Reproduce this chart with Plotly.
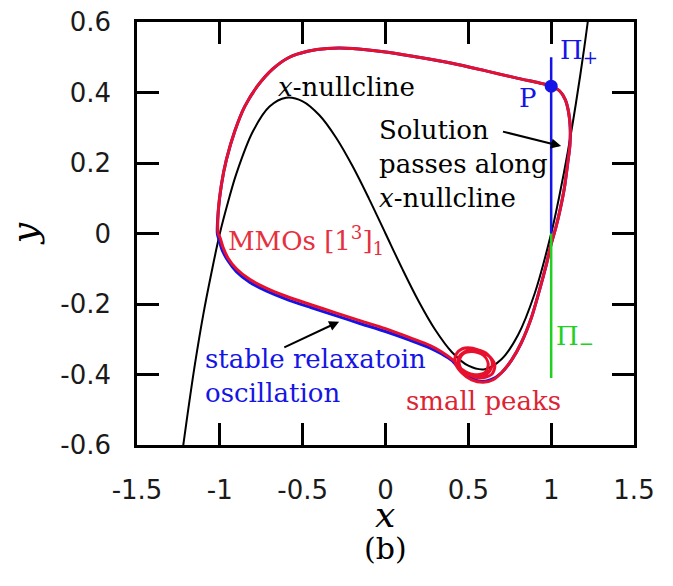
import plotly.graph_objects as go

# ---------------- data ----------------
null_x = [-1.25, -1.2, -1.15, -1.1, -1.05, -1.0, -0.95, -0.9, -0.8, -0.7, -0.6, -0.5, -0.4,
          -0.3, -0.2, -0.1, 0.0, 0.1, 0.2, 0.3, 0.4, 0.5, 0.6, 0.7, 0.8, 0.9, 1.0,
          1.05, 1.1, 1.15, 1.2, 1.24]
null_y = [-0.70, -0.53, -0.37, -0.23, -0.11, 0.0, 0.09, 0.17, 0.29, 0.36, 0.385, 0.375, 0.336,
          0.273, 0.192, 0.099, 0.0, -0.099, -0.192, -0.273, -0.336, -0.375, -0.385, -0.357,
          -0.288, -0.171, 0.0, 0.108, 0.231, 0.371, 0.528, 0.67]

mmo_x = [-1.01, -1.01, -0.99, -0.96, -0.91, -0.85, -0.77, -0.68, -0.58, -0.47, -0.35, -0.2,
         0.0, 0.2, 0.4, 0.6, 0.8, 0.93, 1.0, 1.05, 1.085, 1.105, 1.115, 1.113, 1.10, 1.08,
         1.055, 1.03, 1.0, 0.97, 0.93, 0.88, 0.82, 0.76, 0.70, 0.65,
         0.59, 0.52, 0.46, 0.42, 0.43, 0.48, 0.56, 0.63, 0.66, 0.64, 0.57, 0.50, 0.45,
         0.44, 0.48, 0.55, 0.62, 0.645, 0.62, 0.55, 0.48, 0.445, 0.46, 0.52, 0.59, 0.62,
         0.60, 0.53, 0.46, 0.41, 0.34, 0.27, 0.15, 0.0, -0.15, -0.3, -0.45, -0.6, -0.72,
         -0.82, -0.9, -0.95, -0.98, -1.0, -1.01]
mmo_y = [0.0, 0.06, 0.14, 0.21, 0.29, 0.36, 0.42, 0.467, 0.50, 0.517, 0.525, 0.525,
         0.515, 0.50, 0.483, 0.462, 0.44, 0.427, 0.418, 0.405, 0.38, 0.345, 0.30, 0.25,
         0.20, 0.13, 0.07, 0.02, -0.03, -0.09, -0.16, -0.24, -0.31, -0.36, -0.395, -0.415,
         -0.422, -0.415, -0.395, -0.365, -0.34, -0.325, -0.33, -0.35, -0.375, -0.40,
         -0.41, -0.40, -0.38, -0.355, -0.335, -0.33, -0.345, -0.37, -0.395, -0.405,
         -0.395, -0.37, -0.345, -0.335, -0.345, -0.37, -0.395, -0.40, -0.385, -0.36,
         -0.336, -0.318, -0.296, -0.27, -0.248, -0.225, -0.202, -0.178, -0.155, -0.13,
         -0.10, -0.07, -0.04, -0.01, 0.0]

relax_x = [-1.015, -1.01, -0.99, -0.96, -0.91, -0.85, -0.77, -0.68, -0.58, -0.47, -0.35,
           -0.2, 0.0, 0.2, 0.4, 0.6, 0.8, 0.93, 1.0, 1.05, 1.085, 1.105, 1.115, 1.113,
           1.10, 1.08, 1.055, 1.03, 1.0, 0.97, 0.93, 0.88, 0.82, 0.76, 0.70, 0.64, 0.58,
           0.52, 0.46, 0.40, 0.34, 0.27, 0.15, 0.0, -0.15, -0.3, -0.45, -0.6, -0.72,
           -0.82, -0.9, -0.95, -0.985, -1.005, -1.015]
relax_y = [0.0, 0.06, 0.14, 0.21, 0.29, 0.36, 0.42, 0.467, 0.50, 0.517, 0.525, 0.525,
           0.515, 0.50, 0.483, 0.462, 0.44, 0.427, 0.418, 0.405, 0.38, 0.345, 0.30, 0.25,
           0.20, 0.13, 0.07, 0.02, -0.03, -0.09, -0.16, -0.24, -0.31, -0.36, -0.395,
           -0.414, -0.42, -0.41, -0.39, -0.36, -0.342, -0.325, -0.303, -0.278, -0.256,
           -0.233, -0.21, -0.186, -0.163, -0.138, -0.108, -0.078, -0.048, -0.018, 0.0]

pi_plus_x = [1.0, 1.0]
pi_plus_y = [0.0, 0.5]
pi_minus_x = [1.0, 1.0]
pi_minus_y = [0.0, -0.41]
p_x = [1.0]
p_y = [0.418]

x_ticks = [-1.5, -1.0, -0.5, 0.0, 0.5, 1.0, 1.5]
x_tick_text = ["-1.5", "-1", "-0.5", "0", "0.5", "1", "1.5"]
y_ticks = [-0.6, -0.4, -0.2, 0.0, 0.2, 0.4, 0.6]
y_tick_text = ["-0.6", "-0.4", "-0.2", "0", "0.2", "0.4", "0.6"]

# ---------------- styles ----------------
RED = "#e8112d"
BLUE = "#1414e6"
GREEN = "#22d022"
SERIF = "DejaVu Serif"

fig = go.Figure()
fig.add_trace(go.Scatter(x=null_x, y=null_y, mode="lines",
                         line=dict(color="black", width=2, shape="spline"),
                         hoverinfo="skip", showlegend=False))
fig.add_trace(go.Scatter(x=relax_x, y=relax_y, mode="lines",
                         line=dict(color=BLUE, width=3, shape="spline", smoothing=0.8),
                         hoverinfo="skip", showlegend=False))
fig.add_trace(go.Scatter(x=mmo_x, y=mmo_y, mode="lines",
                         line=dict(color=RED, width=3, shape="spline", smoothing=0.9),
                         hoverinfo="skip", showlegend=False))
fig.add_trace(go.Scatter(x=pi_plus_x, y=pi_plus_y, mode="lines",
                         line=dict(color=BLUE, width=2.5), showlegend=False))
fig.add_trace(go.Scatter(x=pi_minus_x, y=pi_minus_y, mode="lines",
                         line=dict(color=GREEN, width=2.5), showlegend=False))
fig.add_trace(go.Scatter(x=p_x, y=p_y, mode="markers",
                         marker=dict(color=BLUE, size=13), showlegend=False))

ann = []
def txt(x, y, s, color="black", size=26, xanchor="left", **kw):
    ann.append(dict(x=x, y=y, xref="x", yref="y", text=s, showarrow=False,
                    xanchor=xanchor, yanchor="middle",
                    font=dict(family=SERIF, size=size, color=color), **kw))

txt(-0.66, 0.415, "<i>x</i>-nullcline")
txt(-0.05, 0.197, "Solution<br>passes along<br><i>x</i>-nullcline", align="left")
txt(-0.965, -0.02, "MMOs [1<sup>3</sup>]<sub>1</sub>", color="#e6303e")
txt(-1.10, -0.405, "stable relaxatoin<br>oscillation", color=BLUE, align="left")
txt(0.11, -0.475, "small peaks", color="#dc2434")
txt(0.863, 0.383, "P", color=BLUE, xanchor="center")
txt(1.04, 0.515, "Π<sub>+</sub>", color=BLUE)
txt(1.02, -0.296, "Π<sub>−</sub>", color=GREEN)

# arrows
ann.append(dict(x=1.06, y=0.248, ax=0.70, ay=0.29, xref="x", yref="y", axref="x", ayref="y",
                showarrow=True, arrowhead=2, arrowsize=1, arrowwidth=2, arrowcolor="black", text=""))
ann.append(dict(x=-0.28, y=-0.25, ax=-0.62, ay=-0.325, xref="x", yref="y", axref="x", ayref="y",
                showarrow=True, arrowhead=2, arrowsize=1, arrowwidth=2, arrowcolor="black", text=""))

# axis titles and caption
ann.append(dict(x=0.499, y=-0.165, xref="paper", yref="paper", text="<i>x</i>", showarrow=False,
                xanchor="center", yanchor="middle", font=dict(family=SERIF, size=36, color="black")))
ann.append(dict(x=-0.226, y=0.5, xref="paper", yref="paper", text="<i>y</i>", showarrow=False,
                textangle=-90, xanchor="center", yanchor="middle",
                font=dict(family=SERIF, size=36, color="black")))
ann.append(dict(x=0.499, y=-0.245, xref="paper", yref="paper", text="(b)", showarrow=False,
                xanchor="center", yanchor="middle", font=dict(family=SERIF, size=30, color="black")))

axis_common = dict(showgrid=False, zeroline=False, showline=True, linecolor="black",
                   linewidth=2.5, mirror="ticks", ticks="inside", ticklen=22, tickwidth=2.5,
                   tickcolor="black", automargin=False, ticklabeloverflow="allow",
                   tickfont=dict(family="DejaVu Sans", size=26, color="#1a1a1a"))

# page body has an 8px default margin, so the figure is 8px smaller and shifted
fig.update_layout(
    width=665, height=578,
    margin=dict(l=129, r=39, t=14, b=141, autoexpand=False),
    paper_bgcolor="white", plot_bgcolor="white",
    xaxis=dict(range=[-1.5, 1.5], tickvals=x_ticks, ticktext=x_tick_text,
               ticklabelstandoff=20, **axis_common),
    yaxis=dict(range=[-0.6, 0.6], tickvals=y_ticks, ticktext=y_tick_text,
               ticklabelstandoff=18, **axis_common),
    annotations=ann,
    showlegend=False,
)

fig.write_html("out.html")
